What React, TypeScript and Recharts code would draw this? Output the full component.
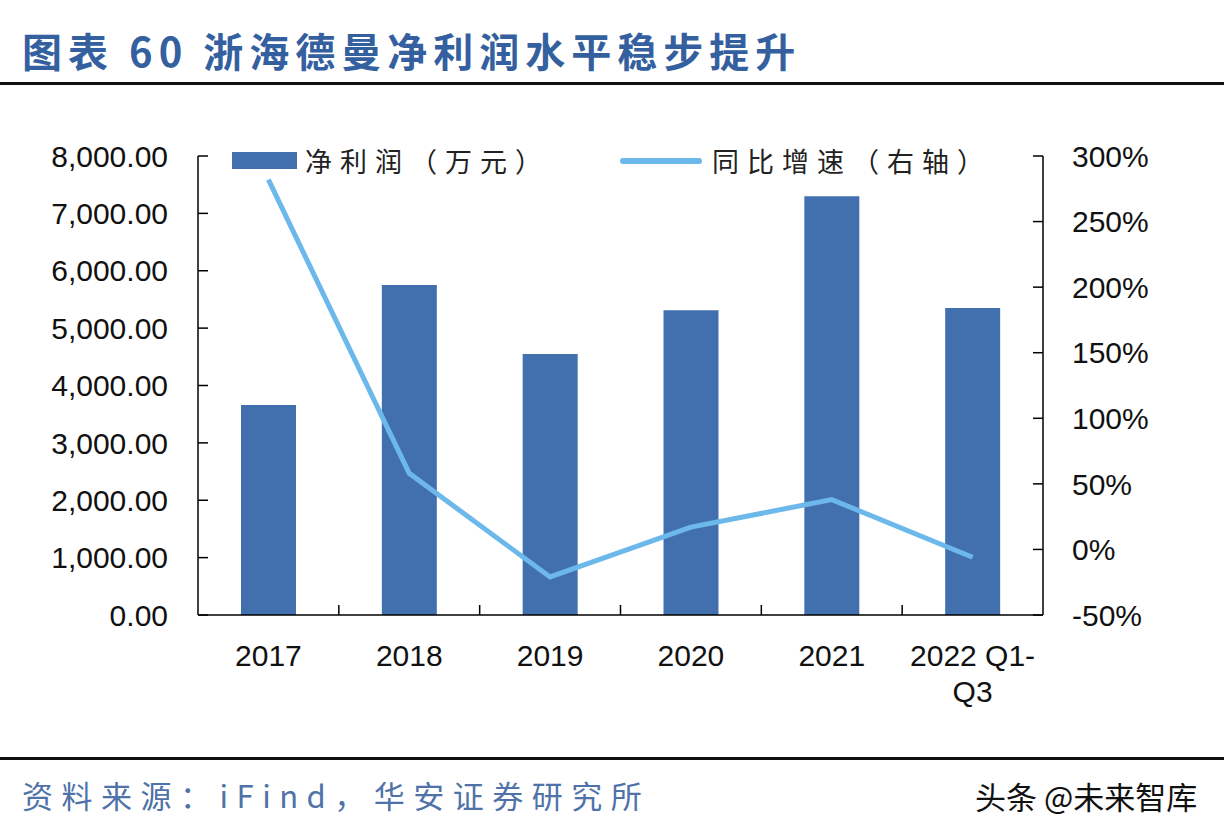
import React from 'react';
import { ComposedChart, Bar, Line, XAxis, YAxis, Legend } from 'recharts';

const categories = ['2017', '2018', '2019', '2020', '2021', '2022 Q1-Q3'];
const netProfit = [3660, 5750, 4550, 5310, 7300, 5350];
const yoyGrowth = [282, 58, -21, 17, 38, -6];
const leftTicks = [0, 1000, 2000, 3000, 4000, 5000, 6000, 7000, 8000];
const rightTicks = [-50, 0, 50, 100, 150, 200, 250, 300];

const title = '图表 60 浙海德曼净利润水平稳步提升';
const source = '资料来源：iFind，华安证券研究所';
const watermark = '头条 @未来智库';
const barName = '净利润（万元）';
const lineName = '同比增速（右轴）';

const data = categories.map((c, i) => ({ name: c, profit: netProfit[i], growth: yoyGrowth[i] }));

const BAR_COLOR = '#4270AE';
const LINE_COLOR = '#6CB8EA';
const NUM_FONT = '"Liberation Sans", Arial, sans-serif';
const CJK_FONT = '"Noto Sans CJK SC", sans-serif';

const fmtLeft = (v: number) =>
  v.toLocaleString('en-US', { minimumFractionDigits: 2, maximumFractionDigits: 2 });
const fmtRight = (v: number) => `${v}%`;

const XTick = (props: any) => {
  const { x, y, payload, index } = props;
  const v: string = payload.value;
  const m = v.match(/^(.*-)(.+)$/);
  const lines = m ? [m[1], m[2]] : [v];
  const off = payload.offset || 0;
  return (
    <g>
      {index < categories.length - 1 && off > 0 && (
        <line x1={x + off} x2={x + off} y1={y} y2={y - 10} stroke="#000" strokeWidth={1.5} />
      )}
      {lines.map((t, i) => (
        <text
          key={i}
          x={x}
          y={y + 51 + i * 36}
          textAnchor="middle"
          fontFamily={NUM_FONT}
          fontSize={30}
          fill="#111"
        >
          {t}
        </text>
      ))}
    </g>
  );
};

const LegendContent = () => (
  <div style={{ display: 'flex', alignItems: 'center', fontFamily: CJK_FONT, fontSize: 27, color: '#222' }}>
    <div style={{ width: 65, height: 17, background: BAR_COLOR, marginRight: 8 }} />
    <span style={{ letterSpacing: 8 }}>{barName}</span>
    <div style={{ width: 82, height: 6, background: LINE_COLOR, borderRadius: 3, marginLeft: 70, marginRight: 10 }} />
    <span style={{ letterSpacing: 8 }}>{lineName}</span>
  </div>
);

export default function App() {
  return (
    <div style={{ position: 'absolute', left: 0, top: 0, width: 1224, height: 834, background: '#fff', overflow: 'hidden' }}>
      <div
        style={{
          position: 'absolute',
          left: 22,
          top: 24,
          fontFamily: CJK_FONT,
          fontWeight: 700,
          fontSize: 40,
          letterSpacing: 6,
          color: '#3560A0',
          whiteSpace: 'nowrap',
          lineHeight: '52px',
        }}
      >
        {title}
      </div>
      <div style={{ position: 'absolute', left: 0, top: 82, width: 1224, height: 3, background: '#111' }} />
      <div style={{ position: 'absolute', left: 0, top: 757, width: 1224, height: 3, background: '#111' }} />
      <div
        style={{
          position: 'absolute',
          left: 22,
          top: 774,
          fontFamily: CJK_FONT,
          fontSize: 31,
          letterSpacing: 8.5,
          color: '#4F72A8',
          whiteSpace: 'nowrap',
          lineHeight: '42px',
        }}
      >
        {source}
      </div>
      <div
        style={{
          position: 'absolute',
          left: 975,
          top: 776,
          fontFamily: CJK_FONT,
          fontSize: 31,
          color: '#111',
          whiteSpace: 'nowrap',
          lineHeight: '40px',
        }}
      >
        {watermark}
      </div>
      <div style={{ position: 'absolute', left: 0, top: 0 }}>
        <ComposedChart width={1224} height={834} data={data} margin={{ top: 156, right: 0, bottom: 159, left: 0 }}>
          <XAxis
            dataKey="name"
            height={60}
            interval={0}
            tickLine={false}
            tickSize={0}
            tickMargin={0}
            axisLine={{ stroke: '#000', strokeWidth: 1.5 }}
            tick={<XTick />}
          />
          <YAxis
            yAxisId="left"
            orientation="left"
            width={198}
            domain={[0, 8000]}
            ticks={leftTicks}
            interval={0}
            tickFormatter={fmtLeft}
            tickSize={-10}
            tickMargin={40}
            axisLine={{ stroke: '#000', strokeWidth: 1.5 }}
            tickLine={{ stroke: '#000', strokeWidth: 1.5 }}
            tick={{ fill: '#111', fontSize: 30, fontFamily: NUM_FONT }}
          />
          <YAxis
            yAxisId="right"
            orientation="right"
            width={181}
            domain={[-50, 300]}
            ticks={rightTicks}
            interval={0}
            tickFormatter={fmtRight}
            tickSize={-10}
            tickMargin={39}
            axisLine={{ stroke: '#000', strokeWidth: 1.5 }}
            tickLine={{ stroke: '#000', strokeWidth: 1.5 }}
            tick={{ fill: '#111', fontSize: 30, fontFamily: NUM_FONT, textAnchor: 'start' }}
          />
          <Legend
            layout="horizontal"
            verticalAlign="middle"
            align="center"
            content={<LegendContent />}
            wrapperStyle={{ position: 'absolute', top: 141, left: 232, width: 800 }}
          />
          <Bar yAxisId="left" dataKey="profit" name={barName} fill={BAR_COLOR} barSize={55} isAnimationActive={false} />
          <Line
            yAxisId="right"
            dataKey="growth"
            name={lineName}
            stroke={LINE_COLOR}
            strokeWidth={5}
            dot={false}
            type="linear"
            isAnimationActive={false}
          />
        </ComposedChart>
      </div>
    </div>
  );
}
